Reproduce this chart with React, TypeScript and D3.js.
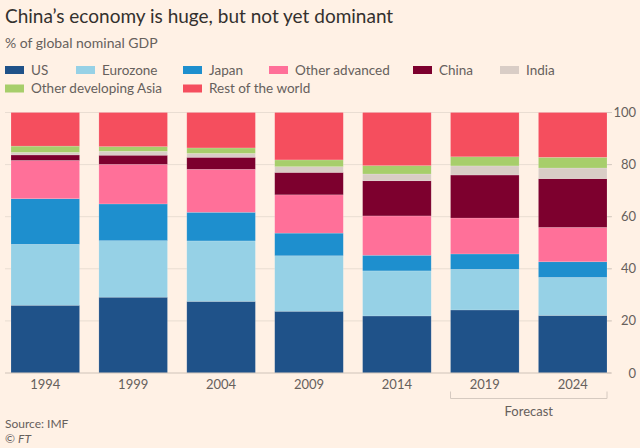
import React from "react";
import * as d3 from "d3";

const years = ["1994", "1999", "2004", "2009", "2014", "2019", "2024"];
const seriesNames = ["US", "Eurozone", "Japan", "Other advanced", "China", "India", "Other developing Asia", "Rest of the world"];
const us = [26.0, 29.1, 27.5, 23.7, 21.9, 24.2, 22.1];
const eurozone = [23.4, 21.7, 23.2, 21.3, 17.3, 15.6, 14.6];
const japan = [17.5, 14.1, 11.0, 8.7, 6.0, 5.9, 6.0];
const otherAdvanced = [14.7, 15.2, 16.5, 14.7, 15.1, 13.8, 13.2];
const china = [2.1, 3.5, 4.6, 8.6, 13.5, 16.5, 18.7];
const india = [1.0, 1.5, 1.5, 2.2, 2.6, 3.5, 4.1];
const otherDevAsia = [2.4, 1.8, 2.1, 2.6, 3.2, 3.5, 4.1];
const restOfWorld = [12.9, 13.1, 13.6, 18.2, 20.4, 17.0, 17.2];
const yTicks = [0, 20, 40, 60, 80, 100];
const forecastYears = ["2019", "2024"];

const colors = ["#1f5289", "#96d1e6", "#1e8fce", "#ff7099", "#7d002e", "#d9cdc6", "#a7ce6b", "#f54e5e"];

const W = 640, H = 448;
const BG = "#fff1e5";
const FONT = "Lato, 'Open Sans', sans-serif";
const MUTED = "#66605c";

// legend layout: [x, y] for each series
const legendPos: [number, number][] = [
  [5, 70], [76, 70], [183, 70], [269, 70], [413, 70], [500, 70],
  [5, 88.5], [183, 88.5],
];

export default function App() {
  const valuesBySeries = [us, eurozone, japan, otherAdvanced, china, india, otherDevAsia, restOfWorld];
  const table = years.map((y, i) => {
    const row: any = { year: y };
    seriesNames.forEach((s, j) => (row[s] = valuesBySeries[j][i]));
    return row;
  });
  const stack = d3.stack<any>().keys(seriesNames)(table);

  const x = d3.scaleBand().domain(years).range([11, 607]).paddingInner(0.22).paddingOuter(0);
  const y = d3.scaleLinear().domain([0, 100]).range([373, 112.5]);

  const fx0 = x(forecastYears[0])!;
  const fx1 = x(forecastYears[forecastYears.length - 1])! + x.bandwidth();

  return (
    <svg width={W} height={H} style={{ position: "absolute", left: 0, top: 0 }} fontFamily={FONT}>
      <rect x={0} y={0} width={W} height={H} fill={BG} />
      <text x={5} y={23} fontSize={19} fill="#33302e">China’s economy is huge, but not yet dominant</text>
      <text x={5} y={48} fontSize={14} fill={MUTED}>% of global nominal GDP</text>

      {seriesNames.map((s, i) => (
        <g key={s} transform={`translate(${legendPos[i][0]},${legendPos[i][1]})`}>
          <rect x={0} y={-4} width={19} height={8} fill={colors[i]} />
          <text x={26} y={0} dy="0.35em" fontSize={13.5} fill={MUTED}>{s}</text>
        </g>
      ))}

      {yTicks.filter((t) => t > 0).map((t) => (
        <line key={t} x1={5} x2={611} y1={y(t)} y2={y(t)} stroke="#e9ddd2" strokeWidth={1} />
      ))}
      {yTicks.map((t) => (
        <g key={"t" + t}>
          <line x1={607} x2={612} y1={y(t)} y2={y(t)} stroke="#d6cac0" />
          <text x={636} y={y(t)} dy="0.35em" textAnchor="end" fontSize={13} fill={MUTED}>{t}</text>
        </g>
      ))}

      {stack.map((layer, j) => (
        <g key={layer.key} fill={colors[j]}>
          {layer.map((d, i) => (
            <rect
              key={i}
              x={x(years[i])!}
              y={y(d[1])}
              width={x.bandwidth()}
              height={y(d[0]) - y(d[1])}
              stroke="rgba(255,255,255,0.25)"
              strokeWidth={0.6}
            />
          ))}
        </g>
      ))}

      <line x1={5} x2={611} y1={y(0)} y2={y(0)} stroke="#cfc3b9" strokeWidth={1} />

      {years.map((yr) => (
        <text key={yr} x={x(yr)! + x.bandwidth() / 2} y={384} dy="0.35em" textAnchor="middle" fontSize={13} fill={MUTED}>
          {yr}
        </text>
      ))}

      <path
        d={`M${fx0},${391.5}V${398.5}H${fx1}V${391.5}`}
        fill="none"
        stroke="#d6cac0"
        strokeWidth={1}
      />
      <text x={(fx0 + fx1) / 2} y={411.5} dy="0.35em" textAnchor="middle" fontSize={13} fill={MUTED}>Forecast</text>

      <text x={5} y={424} dy="0.35em" fontSize={12} fill={MUTED}>Source: IMF</text>
      <text x={5} y={439} dy="0.35em" fontSize={12} fill={MUTED}>© <tspan fontStyle="italic">FT</tspan></text>
    </svg>
  );
}
